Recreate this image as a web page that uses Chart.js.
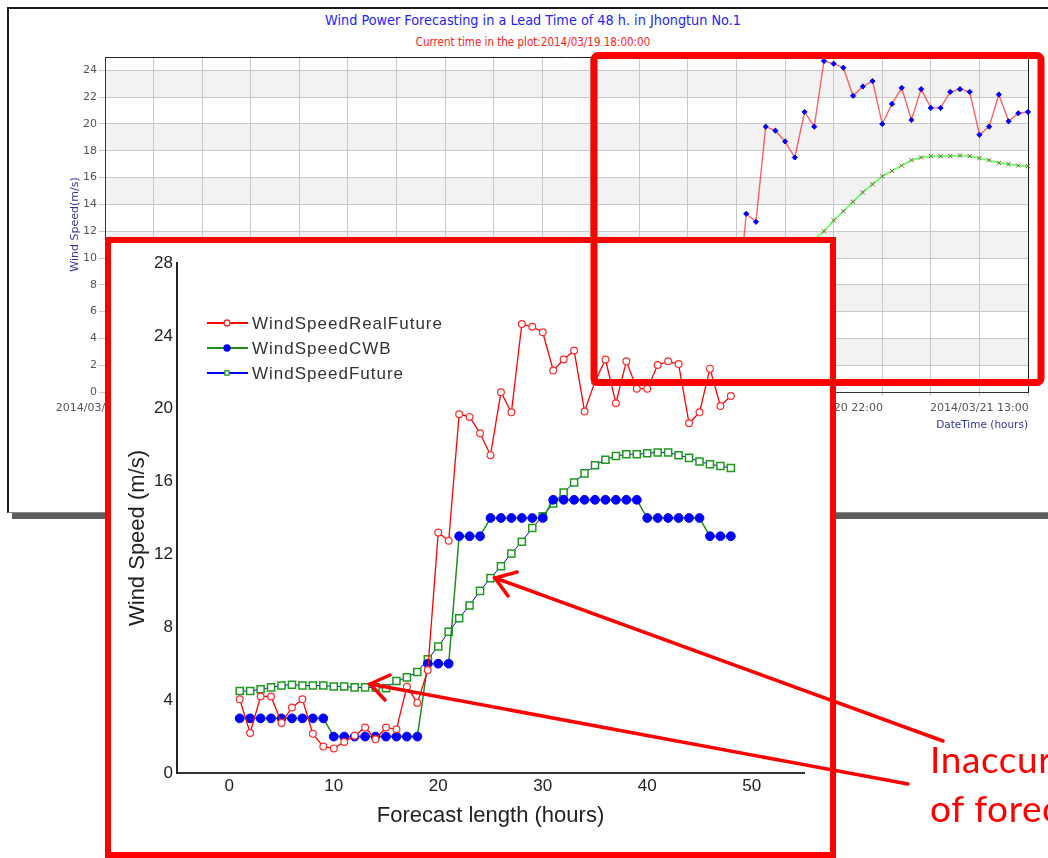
<!DOCTYPE html>
<html>
<head>
<meta charset="utf-8">
<title>Wind speed forecast</title>
<script src="https://cdn.jsdelivr.net/npm/chart.js@4.4.1/dist/chart.umd.min.js"></script>
<style>
  html, body { margin: 0; padding: 0; background: #fff; }
  body { position: relative; width: 1048px; height: 858px; overflow: hidden; }
  #bgBox { position: absolute; left: 7px; top: 7px; width: 1100px; height: 503px;
           border: 2px solid #1a1a1a; border-bottom: 1px solid #888;
           box-shadow: 5px 6px 0 #5f5f5f; background: #fff; }
  #bgTitle { position: absolute; left: 0; top: 12px; width: 1066px; text-align: center;
             font: 14.3px "DejaVu Sans Condensed", "Liberation Sans Narrow", "Liberation Sans", sans-serif;
             line-height: 17px; color: #2323ff; }
  #bgSub { position: absolute; left: 0; top: 35px; width: 1066px; text-align: center;
           font: 11.5px "DejaVu Sans Condensed", "Liberation Sans Narrow", "Liberation Sans", sans-serif;
           line-height: 14px; color: #ff2020; }
  #bgChart { position: absolute; left: 9px; top: 8px; }
  #inset { position: absolute; left: 105px; top: 237px; width: 731px; height: 621px;
           border: 6px solid #ff0000; box-sizing: border-box; background: #fff; }
  #inset canvas { display: block; }
  #marks { position: absolute; left: 0; top: 0; }
  #note { position: absolute; left: 930px; top: 734px; white-space: nowrap;
          font: 37px Lato, "Open Sans", sans-serif; letter-spacing: 0.6px; line-height: 49px; color: #ff0000; }
</style>
</head>
<body>
<div id="bgBox"></div>
<div id="bgTitle">Wind Power Forecasting in a Lead Time of 48 h. in Jhongtun No.1</div>
<div id="bgSub">Current time in the plot:2014/03/19 18:00:00</div>
<canvas id="bgChart" width="1039" height="504"></canvas>
<div id="inset"><canvas id="insetChart" width="719" height="609"></canvas></div>
<svg id="marks" width="1048" height="858">
  <rect x="594" y="55.5" width="447" height="327" rx="4" fill="none" stroke="#ff0000" stroke-width="7"/>
  <g stroke="#ff0000" stroke-width="3.5" stroke-linecap="round" fill="none">
    <line x1="943" y1="741" x2="495" y2="578"/>
    <polyline points="517,572 495,578 508,596"/>
    <line x1="908" y1="784" x2="370" y2="684"/>
    <polyline points="390,675 370,684 385,700"/>
  </g>
</svg>
<div id="note">Inaccuracy<br>of forecast</div>

<script>
// ---------- inset: forecast length vs wind speed ----------
const leadHours = [1, 2, 3, 4, 5, 6, 7, 8, 9, 10, 11, 12, 13, 14, 15, 16, 17, 18, 19, 20, 21, 22, 23, 24,
                   25, 26, 27, 28, 29, 30, 31, 32, 33, 34, 35, 36, 37, 38, 39, 40, 41, 42, 43, 44, 45, 46, 47, 48];
const windRealFuture = [4.05, 2.2, 4.2, 4.2, 2.75, 3.6, 4.05, 2.15, 1.45, 1.35, 1.7, 2.05, 2.5, 1.85, 2.5, 2.4,
                        4.75, 3.85, 5.65, 13.2, 12.75, 19.7, 19.55, 18.65, 17.45, 20.9, 19.8, 24.65, 24.5, 24.2,
                        22.1, 22.7, 23.2, 19.85, 21.5, 22.7, 20.3, 22.6, 21.1, 21.1, 22.4, 22.6, 22.45, 19.2,
                        19.8, 22.2, 20.15, 20.7];
const windCWB = [3, 3, 3, 3, 3, 3, 3, 3, 3, 2, 2, 2, 2, 2, 2, 2, 2, 2, 6, 6, 6, 13, 13, 13,
                 14, 14, 14, 14, 14, 14, 15, 15, 15, 15, 15, 15, 15, 15, 15, 14, 14, 14, 14, 14, 14, 13, 13, 13];
const windFuture = [4.5, 4.5, 4.6, 4.7, 4.8, 4.85, 4.8, 4.8, 4.8, 4.75, 4.75, 4.7, 4.7, 4.7, 4.65, 5.05,
                    5.25, 5.55, 6.25, 6.95, 7.75, 8.5, 9.2, 10.0, 10.7, 11.35, 12.05, 12.7, 13.45, 14.1,
                    14.8, 15.4, 15.95, 16.45, 16.9, 17.2, 17.4, 17.5, 17.5, 17.55, 17.6, 17.6, 17.45, 17.3,
                    17.1, 16.95, 16.85, 16.75];
const insetXTicks = [0, 10, 20, 30, 40, 50];

// ---------- background screenshot: date-time axis ----------
const bgCurrentHour = 47;   // 2014/03/19 18:00 counted from 2014/03/17 19:00
const bgTickLabels = ["2014/03/17 19:00", "2014/03/18 10:00", "2014/03/19 01:00", "2014/03/19 16:00",
                      "2014/03/20 07:00", "2014/03/20 22:00", "2014/03/21 13:00"];
const bgRealLead = [18, 19, 20, 21, 22, 23, 24, 25, 26, 27, 28, 29, 30, 31, 32, 33,
                    34, 35, 36, 37, 38, 39, 40, 41, 42, 43, 44, 45, 46, 47, 48];
const bgReal = [5.6, 13.3, 12.7, 19.8, 19.5, 18.7, 17.5, 20.9, 19.8, 24.7, 24.5, 24.2, 22.1, 22.8, 23.2, 20.0,
                21.5, 22.7, 20.3, 22.6, 21.2, 21.2, 22.4, 22.6, 22.4, 19.2, 19.8, 22.2, 20.2, 20.8, 20.9];
const bgFutureLead = [25, 26, 27, 28, 29, 30, 31, 32, 33, 34, 35, 36, 37, 38, 39, 40,
                      41, 42, 43, 44, 45, 46, 47, 48];
const bgFuture = [10.7, 11.4, 12.0, 12.8, 13.5, 14.2, 14.9, 15.5, 16.1, 16.5, 16.9, 17.3, 17.5, 17.6, 17.6, 17.6,
                  17.65, 17.6, 17.45, 17.3, 17.1, 17.0, 16.9, 16.85];

const BG_FONT = '"DejaVu Sans", sans-serif';
const INSET_FONT = '"Liberation Sans", Arial, sans-serif';

// grey/white alternate bands plus the dark frame of the old plot
const bandPlugin = {
    id: "bands",
    beforeDraw(chart) {
        const { ctx, chartArea: a, scales: { y } } = chart;
        ctx.save();
        ctx.fillStyle = "#f2f2f2";
        for (let v = 2; v < y.max; v += 4) {
            const top = y.getPixelForValue(Math.min(v + 2, y.max));
            const bottom = y.getPixelForValue(v);
            ctx.fillRect(a.left, top, a.right - a.left, bottom - top);
        }
        ctx.restore();
    },
    beforeDatasetsDraw(chart) {
        const { ctx, chartArea: a } = chart;
        ctx.save();
        ctx.strokeStyle = "#222";
        ctx.lineWidth = 1;
        ctx.beginPath();
        ctx.moveTo(a.left, a.top + 0.5);
        ctx.lineTo(a.right + 0.5, a.top + 0.5);
        ctx.lineTo(a.right + 0.5, a.bottom);
        ctx.stroke();
        ctx.restore();
    }
};

new Chart(document.getElementById("bgChart").getContext("2d"), {
    type: "line",
    data: {
        datasets: [{
            label: "WindSpeedRealFuture",
            data: bgRealLead.map((h, i) => ({ x: bgCurrentHour + h, y: bgReal[i] })),
            borderColor: "rgba(255,70,70,0.85)",
            borderWidth: 1.4,
            pointStyle: "rectRot",
            pointRadius: 2.6,
            pointBackgroundColor: "#0000ff",
            pointBorderColor: "#0000ff",
            pointBorderWidth: 1,
            clip: 8
        }, {
            label: "WindSpeedFuture",
            data: bgFutureLead.map((h, i) => ({ x: bgCurrentHour + h, y: bgFuture[i] })),
            borderColor: "rgba(90,255,90,0.85)",
            borderWidth: 2,
            pointStyle: "crossRot",
            pointRadius: 3,
            pointBorderColor: "#8a5a3a",
            pointBorderWidth: 1,
            clip: 8
        }]
    },
    options: {
        responsive: false,
        animation: false,
        layout: { padding: { top: 49, right: 20, left: 0, bottom: 0 } },
        plugins: { legend: { display: false }, tooltip: { enabled: false } },
        scales: {
            x: {
                type: "linear", min: 0, max: 95,
                ticks: {
                    stepSize: 5, autoSkip: false, maxRotation: 0, padding: 6,
                    color: "#555", font: { family: BG_FONT, size: 11 },
                    callback: v => (v % 15 === 0 ? bgTickLabels[v / 15] : "")
                },
                grid: { color: "#c8c8c8", tickLength: 4 },
                border: { color: "#333" },
                title: {
                    display: true, text: "DateTime (hours)", align: "end",
                    color: "#333399", font: { family: BG_FONT, size: 10.5 },
                    padding: { top: 0, bottom: 80 }
                },
                afterFit: s => { s.height = 120; }
            },
            y: {
                min: 0, max: 25,
                ticks: { stepSize: 2, includeBounds: false, padding: 2, color: "#555", font: { family: BG_FONT, size: 11 } },
                grid: { color: "#c8c8c8", tickLength: 6 },
                border: { color: "#333" },
                title: {
                    display: true, text: "Wind Speed(m/s)",
                    color: "#333399", font: { family: BG_FONT, size: 11 },
                    padding: { top: 60, bottom: 0 }
                },
                afterFit: s => { s.width = 96; }
            }
        }
    },
    plugins: [bandPlugin]
});

// legend inside the plot plus rotated y title
const insetExtras = {
    id: "insetExtras",
    afterDraw(chart) {
        const { ctx, chartArea: a } = chart;
        const x0 = a.left + 30;
        ctx.save();
        ctx.font = "17px " + INSET_FONT;
        ctx.letterSpacing = "1px";
        ctx.textBaseline = "middle";
        chart.data.datasets.forEach((ds, i) => {
            const y = a.top + 60 + i * 25;
            ctx.strokeStyle = ds.borderColor;
            ctx.lineWidth = 2;
            ctx.beginPath();
            ctx.moveTo(x0, y);
            ctx.lineTo(x0 + 41, y);
            ctx.stroke();
            ctx.fillStyle = ds.pointBackgroundColor;
            ctx.strokeStyle = ds.pointBorderColor;
            ctx.lineWidth = 1.3;
            Chart.helpers.drawPoint(ctx, { pointStyle: ds.pointStyle, radius: 3, borderWidth: 1.3, rotation: 0 }, x0 + 20, y);
            ctx.fillStyle = "#333";
            ctx.fillText(ds.label, x0 + 45, y + 1);
        });
        ctx.letterSpacing = "0px";
        ctx.font = "22px " + INSET_FONT;
        ctx.fillStyle = "#222";
        ctx.textAlign = "center";
        ctx.translate(a.left - 39, (a.top + a.bottom) / 2 + 20);
        ctx.rotate(-Math.PI / 2);
        ctx.fillText("Wind Speed (m/s)", 0, 0);
        ctx.restore();
    }
};

new Chart(document.getElementById("insetChart").getContext("2d"), {
    type: "line",
    data: {
        datasets: [{
            label: "WindSpeedRealFuture",
            data: leadHours.map((h, i) => ({ x: h, y: windRealFuture[i] })),
            borderColor: "#ff0000",
            borderWidth: 1.3,
            pointStyle: "circle",
            pointRadius: 3.4,
            pointBackgroundColor: "#ffffff",
            pointBorderColor: "#ff2a2a",
            pointBorderWidth: 1.2
        }, {
            label: "WindSpeedCWB",
            data: leadHours.map((h, i) => ({ x: h, y: windCWB[i] })),
            borderColor: "#1e8c1e",
            borderWidth: 1.5,
            pointStyle: "circle",
            pointRadius: 4.4,
            pointBackgroundColor: "#0000ff",
            pointBorderColor: "#0000ff",
            pointBorderWidth: 1
        }, {
            label: "WindSpeedFuture",
            data: leadHours.map((h, i) => ({ x: h, y: windFuture[i] })),
            borderColor: "#0000ff",
            borderWidth: 1,
            pointStyle: "rect",
            pointRadius: 5,
            pointBackgroundColor: "#ffffff",
            pointBorderColor: "#1c9a1c",
            pointBorderWidth: 1.5
        }]
    },
    options: {
        responsive: false,
        animation: false,
        layout: { padding: { top: 20, right: 26, left: 0, bottom: 0 } },
        plugins: { legend: { display: false }, tooltip: { enabled: false } },
        scales: {
            x: {
                type: "linear", min: -5, max: 55,
                afterBuildTicks: s => { s.ticks = insetXTicks.map(v => ({ value: v })); },
                ticks: { padding: 3, color: "#222", font: { family: INSET_FONT, size: 17 } },
                grid: { display: false, drawTicks: false },
                border: { color: "#333", width: 2 },
                title: {
                    display: true, text: "Forecast length (hours)",
                    color: "#222", font: { family: INSET_FONT, size: 22 },
                    padding: { top: 0, bottom: 23 }
                },
                afterFit: s => { s.height = 79; }
            },
            y: {
                min: 0, max: 28,
                ticks: { stepSize: 4, padding: 4, color: "#222", font: { family: INSET_FONT, size: 17 } },
                grid: { display: false, drawTicks: false },
                border: { color: "#222", width: 2 },
                afterFit: s => { s.width = 66; }
            }
        }
    },
    plugins: [insetExtras]
});
</script>
</body>
</html>
